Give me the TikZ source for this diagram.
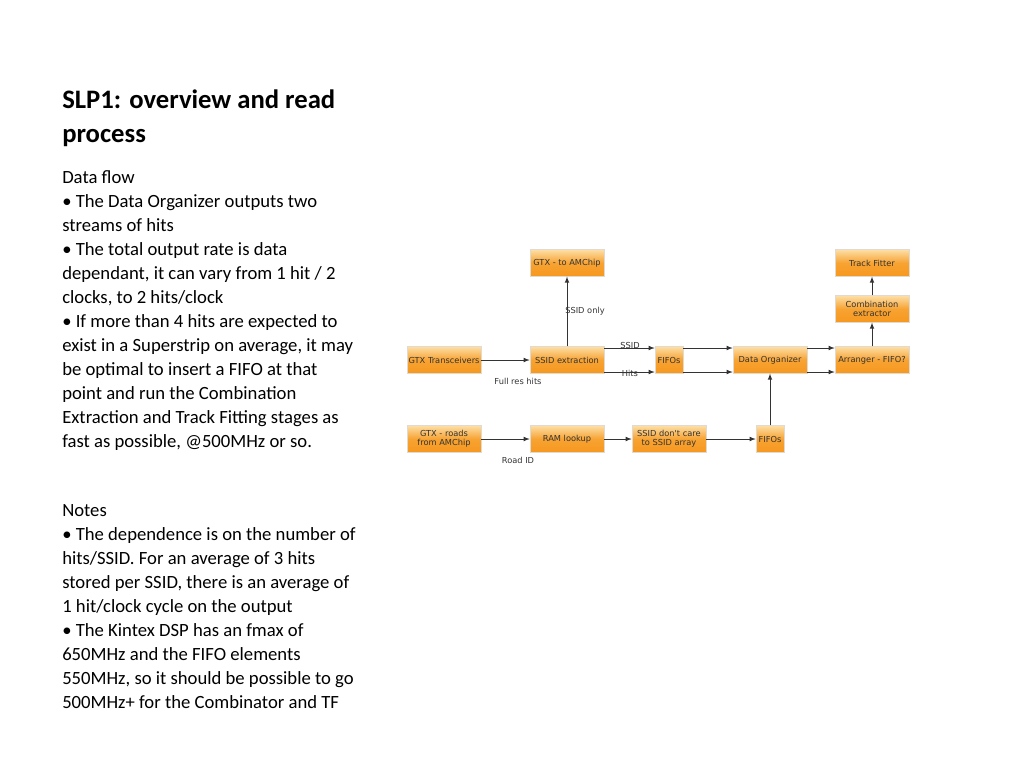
\documentclass[tikz,border=0pt]{standalone}
\usepackage{fontspec}
\setmainfont{Carlito}
\newfontfamily\diagfont{DejaVu Sans}
\usetikzlibrary{positioning}
\definecolor{boxtop}{RGB}{253,222,165}
\definecolor{boxbot}{RGB}{246,152,30}
\tikzset{
  block/.style={rectangle, draw=boxtop!60!black!30, top color=boxtop, bottom color=boxbot, middle color=boxbot!85!boxtop,
    minimum width=55.5pt, minimum height=20pt, inner sep=1pt, align=center,
    font=\diagfont\fontsize{6.2}{7}\selectfont, text=black!80},
  small/.style={block, minimum width=21pt},
  flow/.style={-latex, draw=black!80, line width=0.6pt},
  lbl/.style={font=\diagfont\fontsize{6.2}{7}\selectfont, text=black!80},
  slide/.style={anchor=north west, align=left, inner sep=0pt, font=\fontsize{14}{18}\selectfont}
}
\begin{document}
\begin{tikzpicture}[x=0.75pt, y=-0.75pt]
\useasboundingbox[fill=white] (0,0) rectangle (1024,768);
\node[slide, font=\bfseries\fontsize{20}{25.5}\selectfont] (title) at (62,90) {SLP1: overview and read\\process};
\node[slide] (flow) at (62,170) {Data flow\\
\textbullet\ The Data Organizer outputs two\\streams of hits\\
\textbullet\ The total output rate is data\\dependant, it can vary from 1 hit / 2\\clocks, to 2 hits/clock\\
\textbullet\ If more than 4 hits are expected to\\exist in a Superstrip on average, it may\\be optimal to insert a FIFO at that\\point and run the Combination\\Extraction and Track Fitting stages as\\fast as possible, @500MHz or so.};
\node[slide] (notes) at (62,504) {Notes\\
\textbullet\ The dependence is on the number of\\hits/SSID. For an average of 3 hits\\stored per SSID, there is an average of\\1 hit/clock cycle on the output\\
\textbullet\ The Kintex DSP has an fmax of\\650MHz and the FIFO elements\\550MHz, so it should be possible to go\\500MHz+ for the Combinator and TF};
% diagram blocks
\node[block] (amchip) at (567,263) {GTX - to AMChip};
\node[block] (fitter) at (872,263) {Track Fitter};
\node[block] (comb) at (872,309) {Combination\\extractor};
\node[block] (gtx) at (444,360) {GTX Transceivers};
\node[block] (ssid) at (567,360) {SSID extraction};
\node[small] (fifo1) at (669,360) {FIFOs};
\node[block] (dataorg) at (770,360) {Data Organizer};
\node[block] (arr) at (872,360) {Arranger - FIFO?};
\node[block] (roads) at (444,439) {GTX - roads\\from AMChip};
\node[block] (ram) at (567,439) {RAM lookup};
\node[block] (dontcare) at (669,439) {SSID don't care\\to SSID array};
\node[small] (fifo2) at (770,439) {FIFOs};
% connectors
\draw[flow] (gtx) -- (ssid);
\draw[flow] (ssid) -- (amchip);
\draw[flow] ([yshift=9pt]ssid.east) -- ([yshift=9pt]fifo1.west);
\draw[flow] ([yshift=-9pt]ssid.east) -- ([yshift=-9pt]fifo1.west);
\draw[flow] ([yshift=9pt]fifo1.east) -- ([yshift=9pt]dataorg.west);
\draw[flow] ([yshift=-9pt]fifo1.east) -- ([yshift=-9pt]dataorg.west);
\draw[flow] ([yshift=9pt]dataorg.east) -- ([yshift=9pt]arr.west);
\draw[flow] ([yshift=-9pt]dataorg.east) -- ([yshift=-9pt]arr.west);
\draw[flow] (arr) -- (comb);
\draw[flow] (comb) -- (fitter);
\draw[flow] (roads) -- (ram);
\draw[flow] (ram) -- (dontcare);
\draw[flow] (dontcare) -- (fifo2);
\draw[flow] (fifo2) -- (dataorg);
% labels
\node[lbl] (lssidonly) at (585,311) {SSID only};
\node[lbl] (lfull) at (518,381) {Full res hits};
\node[lbl] (lssid) at (630,345) {SSID};
\node[lbl] (lhits) at (630,373) {Hits};
\node[lbl] (lroad) at (518,460) {Road ID};
\end{tikzpicture}
\end{document}
